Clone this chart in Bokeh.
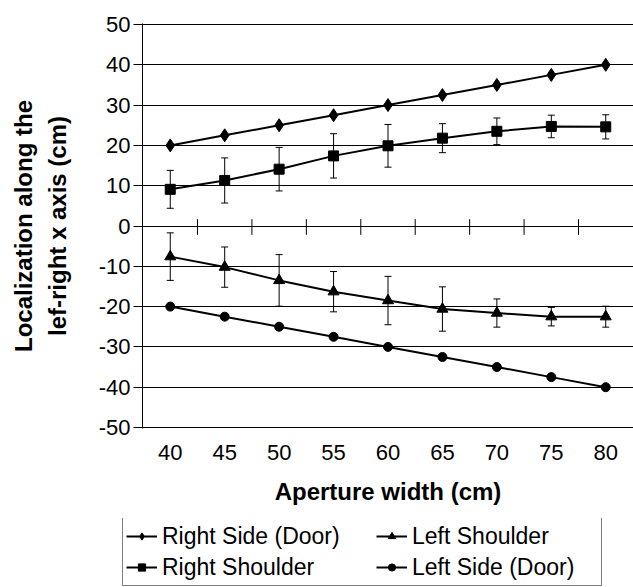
from bokeh.plotting import figure
from bokeh.layouts import column
from bokeh.models import (ColumnDataSource, FixedTicker, Whisker, Legend, LegendItem,
                          Range1d, TeeHead)
from bokeh.embed import file_html
from bokeh.resources import INLINE

# ---- data ----
aperture = [40, 45, 50, 55, 60, 65, 70, 75, 80]
right_side_door = [20, 22.5, 25, 27.5, 30, 32.5, 35, 37.5, 40]
right_shoulder = [9.1, 11.3, 14.1, 17.4, 19.9, 21.8, 23.5, 24.7, 24.6]
right_shoulder_err = [4.7, 5.6, 5.4, 5.5, 5.3, 3.6, 3.3, 2.8, 3.0]
left_shoulder = [-7.6, -10.2, -13.5, -16.3, -18.5, -20.6, -21.6, -22.5, -22.5]
left_shoulder_err = [5.9, 5.0, 6.4, 5.0, 6.0, 5.5, 3.5, 2.3, 2.6]
left_side_door = [-20, -22.5, -25, -27.5, -30, -32.5, -35, -37.5, -40]
y_ticks = [-50, -40, -30, -20, -10, 0, 10, 20, 30, 40, 50]

FONT = "Liberation Sans"

p = figure(width=633, height=518,
           x_range=Range1d(37.45, 82.55), y_range=Range1d(-50.25, 50.25),
           output_backend="svg", toolbar_location=None,
           min_border_left=142, min_border_right=0, min_border_top=23,
           min_border_bottom=90)
p.frame_align = False
p.outline_line_color = None
p.background_fill_color = "white"
p.border_fill_color = "white"

# grid
p.xgrid.grid_line_color = None
p.ygrid.ticker = FixedTicker(ticks=y_ticks)
p.ygrid.grid_line_color = "black"
p.ygrid.grid_line_width = 1

# y axis
ya = p.yaxis[0]
ya.ticker = FixedTicker(ticks=y_ticks)
ya.major_label_overrides = {t: str(t) for t in y_ticks}
ya.axis_line_color = "black"
ya.major_tick_line_color = "black"
ya.major_tick_out = 9
ya.major_tick_in = 0
ya.minor_tick_line_color = None
ya.major_label_text_font = FONT
ya.major_label_text_font_size = "22px"
ya.major_label_text_color = "black"
ya.major_label_standoff = 3
ya.axis_label = "Localization along the\nlef-right x axis (cm)"
ya.axis_label_text_font = FONT
ya.axis_label_text_font_size = "24px"
ya.axis_label_text_font_style = "bold"
ya.axis_label_text_color = "black"
ya.axis_label_standoff = 25
ya.axis_label_text_line_height = 1.25

# x axis
xa = p.xaxis[0]
xa.ticker = FixedTicker(ticks=aperture)
xa.axis_line_color = None
xa.major_tick_line_color = None
xa.minor_tick_line_color = None
xa.major_label_text_font = FONT
xa.major_label_text_font_size = "22px"
xa.major_label_text_color = "black"
xa.major_label_standoff = 10
xa.axis_label = "Aperture width (cm)"
xa.axis_label_text_font = FONT
xa.axis_label_text_font_size = "24px"
xa.axis_label_text_font_style = "bold"
xa.axis_label_text_color = "black"
xa.axis_label_standoff = 15

# category tick marks crossing the zero line
boundaries = [(a + b) / 2 for a, b in zip(aperture[:-1], aperture[1:])]
p.segment(x0=boundaries, y0=[-2.2] * len(boundaries), x1=boundaries,
          y1=[1.7] * len(boundaries), line_color="black", line_width=1)

# error bars
for vals, errs in ((right_shoulder, right_shoulder_err), (left_shoulder, left_shoulder_err)):
    src = ColumnDataSource(dict(x=aperture,
                                upper=[v + e for v, e in zip(vals, errs)],
                                lower=[v - e for v, e in zip(vals, errs)]))
    w = Whisker(base="x", upper="upper", lower="lower", source=src,
                line_color="black", line_width=1,
                upper_head=TeeHead(size=7, line_color="black", line_width=1),
                lower_head=TeeHead(size=7, line_color="black", line_width=1))
    p.add_layout(w)

series = [
    ("Right Side (Door)", right_side_door, "diamond", 13),
    ("Right Shoulder", right_shoulder, "square", 10),
    ("Left Shoulder", left_shoulder, "triangle", 11),
    ("Left Side (Door)", left_side_door, "circle", 9),
]
for label, vals, marker, size in series:
    p.line(aperture, vals, line_color="black", line_width=2)
    p.scatter(aperture, vals, marker=marker, size=size,
              fill_color="black", line_color="black")

# ---- legend strip below the chart ----
p2 = figure(width=633, height=69, x_range=Range1d(0, 1), y_range=Range1d(0, 1),
            output_backend="svg", toolbar_location=None,
            x_axis_location=None, y_axis_location=None,
            min_border_left=121, min_border_right=0, min_border_top=0,
            min_border_bottom=0)
p2.frame_align = False
p2.grid.visible = False
p2.outline_line_color = None
p2.background_fill_color = "white"
p2.border_fill_color = "white"

items = []
for label, vals, marker, size in series:
    # same series, outside this strip's visible range: only their legend glyphs show
    lr = p2.line(aperture, vals, line_color="black", line_width=2)
    sr = p2.scatter(aperture, vals, marker=marker, fill_color="black", line_color="black")
    items.append(LegendItem(label=label, renderers=[lr, sr]))

common = dict(label_text_font=FONT, label_text_font_size="23px",
              label_text_color="black", glyph_width=31, glyph_height=18,
              label_height=30, label_standoff=5, spacing=1, padding=3,
              orientation="vertical", margin=0)
leg_a = Legend(items=[items[0], items[1]], location=(1, 1),
               border_line_color="black", border_line_width=1,
               background_fill_color="white", background_fill_alpha=1,
               label_width=436, **common)
leg_b = Legend(items=[items[2], items[3]], location=(255, 5),
               border_line_color=None, background_fill_alpha=0, **common)
p2.add_layout(leg_a)
p2.add_layout(leg_b)

layout = column(p, p2, spacing=0)
open("out.html", "w").write(file_html(layout, INLINE))
